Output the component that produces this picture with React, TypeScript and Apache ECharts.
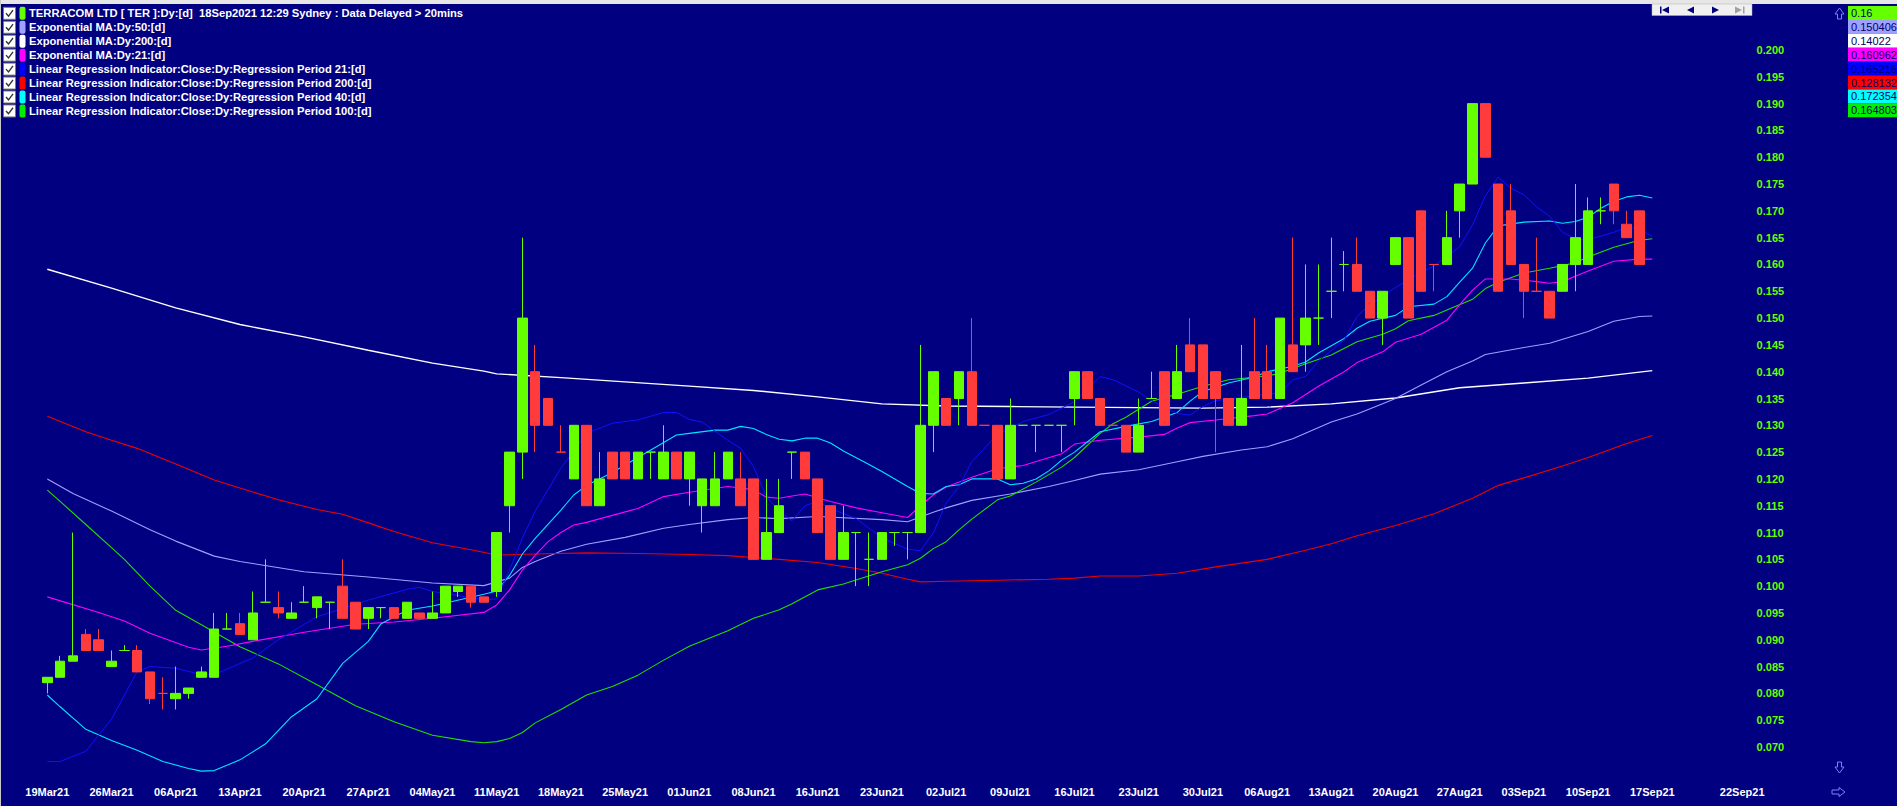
import React, { useEffect, useRef } from "react";
import * as echarts from "echarts";

// ---------- categories / tick labels ----------
const slotCount = 133;
const tickLabels = ["19Mar21","26Mar21","06Apr21","13Apr21","20Apr21","27Apr21","04May21","11May21","18May21","25May21","01Jun21","08Jun21","16Jun21","23Jun21","02Jul21","09Jul21","16Jul21","23Jul21","30Jul21","06Aug21","13Aug21","20Aug21","27Aug21","03Sep21","10Sep21","17Sep21","22Sep21"];
const tickSlots = [0,5,10,15,20,25,30,35,40,45,50,55,60,65,70,75,80,85,90,95,100,105,110,115,120,125,132];
const yTicks = { min: 0.065, max: 0.205, step: 0.005 };

// ---------- candles (TER daily) ----------
const opens = [0.082,0.083,0.086,0.091,0.090,0.085,0.088,0.088,0.084,0.080,0.079,0.080,0.083,0.083,0.092,0.093,0.090,0.097,0.096,0.094,0.097,0.096,0.097,0.100,0.097,0.094,0.096,0.096,0.094,0.095,0.094,0.095,0.099,0.100,0.098,0.099,0.115,0.125,0.140,0.135,0.125,0.120,0.130,0.115,0.125,0.125,0.120,0.125,0.120,0.125,0.120,0.115,0.115,0.120,0.120,0.120,0.105,0.110,0.125,0.125,0.120,0.115,0.105,0.110,0.105,0.105,0.110,0.110,0.110,0.130,0.135,0.135,0.140,0.130,0.130,0.120,0.130,0.130,0.130,0.130,0.135,0.140,0.135,0.130,0.130,0.125,0.135,0.140,0.135,0.145,0.145,0.140,0.135,0.130,0.140,0.140,0.135,0.145,0.145,0.150,0.155,0.160,0.160,0.155,0.150,0.160,0.165,0.170,0.160,0.160,0.170,0.175,0.190,0.175,0.170,0.160,0.155,0.155,0.155,0.160,0.160,0.170,0.175,0.1675,0.170];
const closes = [0.083,0.086,0.087,0.088,0.088,0.086,0.088,0.084,0.079,0.080,0.080,0.081,0.084,0.092,0.092,0.091,0.095,0.097,0.095,0.095,0.097,0.098,0.097,0.094,0.092,0.096,0.096,0.094,0.097,0.094,0.095,0.100,0.100,0.097,0.097,0.110,0.125,0.150,0.130,0.130,0.125,0.130,0.115,0.120,0.120,0.120,0.125,0.125,0.125,0.120,0.125,0.120,0.120,0.125,0.115,0.105,0.110,0.115,0.125,0.120,0.110,0.105,0.110,0.110,0.105,0.110,0.110,0.110,0.130,0.140,0.130,0.140,0.130,0.130,0.120,0.130,0.130,0.130,0.130,0.130,0.140,0.135,0.130,0.130,0.125,0.130,0.135,0.130,0.140,0.140,0.135,0.135,0.130,0.135,0.135,0.135,0.150,0.140,0.150,0.150,0.155,0.160,0.155,0.150,0.155,0.165,0.150,0.155,0.160,0.165,0.175,0.190,0.180,0.155,0.160,0.155,0.155,0.150,0.160,0.165,0.170,0.170,0.170,0.165,0.160];
const lows = [0.080,0.083,0.086,0.088,0.088,0.085,0.088,0.084,0.078,0.077,0.077,0.079,0.083,0.083,0.092,0.091,0.090,0.097,0.094,0.094,0.097,0.094,0.092,0.094,0.092,0.092,0.094,0.094,0.094,0.094,0.094,0.095,0.098,0.096,0.097,0.098,0.110,0.120,0.125,0.130,0.125,0.120,0.115,0.115,0.120,0.120,0.120,0.120,0.120,0.120,0.115,0.110,0.115,0.120,0.115,0.105,0.105,0.110,0.120,0.120,0.110,0.105,0.105,0.100,0.100,0.105,0.1075,0.105,0.110,0.125,0.130,0.130,0.130,0.130,0.120,0.120,0.130,0.125,0.130,0.125,0.130,0.135,0.130,0.130,0.125,0.125,0.135,0.130,0.135,0.140,0.135,0.125,0.130,0.130,0.135,0.135,0.135,0.140,0.140,0.145,0.150,0.155,0.155,0.150,0.145,0.160,0.150,0.155,0.155,0.160,0.165,0.175,0.180,0.155,0.160,0.150,0.155,0.150,0.155,0.155,0.160,0.1675,0.1675,0.165,0.160];
const highs = [0.083,0.087,0.110,0.092,0.092,0.088,0.089,0.089,0.084,0.083,0.085,0.081,0.085,0.095,0.095,0.095,0.099,0.105,0.099,0.097,0.100,0.098,0.097,0.105,0.097,0.096,0.096,0.096,0.097,0.095,0.099,0.100,0.100,0.100,0.098,0.110,0.125,0.165,0.145,0.135,0.130,0.130,0.130,0.125,0.125,0.125,0.125,0.125,0.130,0.125,0.125,0.120,0.125,0.125,0.125,0.120,0.120,0.120,0.125,0.125,0.120,0.115,0.115,0.110,0.110,0.110,0.110,0.110,0.145,0.140,0.135,0.140,0.150,0.130,0.130,0.135,0.130,0.130,0.130,0.130,0.140,0.140,0.135,0.130,0.130,0.135,0.140,0.140,0.145,0.150,0.145,0.140,0.135,0.145,0.150,0.145,0.150,0.165,0.160,0.160,0.165,0.1625,0.165,0.155,0.155,0.165,0.165,0.170,0.160,0.170,0.175,0.190,0.190,0.175,0.175,0.160,0.165,0.155,0.160,0.175,0.1725,0.1725,0.175,0.170,0.170];
const redDojis = [9, 40, 73, 83, 108, 116];

// ---------- indicator lines: [slot, value] ----------
const ema50Pts = [[0,0.1200],[2,0.1173],[5,0.1140],[8,0.1105],[10,0.1084],[13,0.1056],[15,0.1046],[20,0.1027],[25,0.1017],[30,0.1006],[34,0.1001],[35,0.1008],[36,0.1015],[37,0.1035],[38,0.1046],[40,0.1065],[42,0.1078],[45,0.1091],[48,0.1108],[50,0.1115],[53,0.1124],[55,0.1128],[57,0.1126],[60,0.1130],[65,0.1124],[67,0.1120],[69,0.1138],[70,0.1146],[72,0.1160],[75,0.1172],[78,0.1186],[80,0.1197],[82,0.1209],[85,0.1217],[88,0.1232],[90,0.1242],[93,0.1254],[95,0.1260],[97,0.1275],[100,0.1306],[102,0.1321],[104,0.1340],[105,0.1350],[107,0.1375],[109,0.1400],[111,0.1420],[112,0.1432],[115,0.1445],[117,0.1453],[120,0.1475],[122,0.1494],[124,0.1503],[125,0.1504]];
const ema200Pts = [[0,0.1591],[5,0.1556],[10,0.1519],[15,0.1488],[20,0.1465],[25,0.1440],[30,0.1416],[34,0.1401],[35,0.1396],[40,0.1389],[45,0.1381],[50,0.1373],[55,0.1365],[60,0.1353],[65,0.1340],[70,0.1336],[75,0.1335],[80,0.1334],[85,0.1333],[90,0.1332],[95,0.1334],[100,0.1340],[105,0.1351],[110,0.1370],[115,0.1379],[120,0.1388],[125,0.1402]];
const ema21Pts = [[0,0.0980],[4,0.0951],[6,0.0935],[8,0.0912],[11,0.0886],[12,0.0881],[14,0.0888],[16,0.0897],[20,0.0914],[24,0.0929],[27,0.0933],[30,0.0940],[34,0.0951],[35,0.0965],[36,0.0993],[37,0.1030],[38,0.1058],[39,0.1083],[40,0.1100],[41,0.1114],[42,0.1119],[44,0.1132],[46,0.1145],[48,0.1167],[50,0.1175],[53,0.1186],[55,0.1180],[56,0.1166],[57,0.1164],[58,0.1168],[59,0.1172],[61,0.1158],[63,0.1146],[65,0.1137],[67,0.1128],[68,0.1150],[69,0.1170],[70,0.1185],[72,0.1203],[74,0.1219],[76,0.1225],[79,0.1247],[80,0.1265],[82,0.1272],[85,0.1278],[87,0.1283],[88,0.1295],[89,0.1305],[91,0.1310],[94,0.1318],[95,0.1321],[97,0.1342],[99,0.1373],[101,0.1400],[102,0.1417],[104,0.1437],[105,0.1455],[107,0.1470],[109,0.1496],[110,0.1525],[111,0.1552],[112,0.1573],[114,0.1573],[116,0.1568],[117,0.1565],[118,0.1568],[119,0.1578],[120,0.1588],[122,0.1606],[124,0.1610],[125,0.1610]];
const lr21Pts = [[0,0.0673],[1,0.0673],[3,0.0692],[5,0.0752],[7,0.0841],[8,0.0850],[10,0.0847],[12,0.0835],[13,0.0835],[16,0.0866],[18,0.0900],[21,0.0943],[25,0.0974],[28,0.0994],[29,0.0998],[30,0.0990],[34,0.0975],[35,0.0976],[36,0.1030],[37,0.1090],[38,0.1140],[40,0.1220],[42,0.1285],[44,0.1304],[46,0.1310],[48,0.1324],[49,0.1324],[50,0.1311],[51,0.1306],[53,0.1272],[54,0.1257],[55,0.1223],[56,0.1167],[57,0.1140],[58,0.1122],[59,0.1150],[60,0.1158],[61,0.1145],[63,0.1126],[65,0.1090],[67,0.1069],[68,0.1066],[69,0.1099],[70,0.1155],[71,0.1186],[72,0.1232],[74,0.1283],[76,0.1307],[78,0.1320],[80,0.1344],[82,0.1391],[83,0.1385],[85,0.1362],[86,0.1346],[88,0.1322],[89,0.1319],[90,0.1335],[91,0.1346],[93,0.1352],[95,0.1358],[96,0.1360],[97,0.1385],[98,0.1391],[99,0.1420],[101,0.1459],[102,0.1503],[103,0.1525],[105,0.1557],[107,0.1585],[108,0.1597],[110,0.1633],[111,0.1674],[112,0.1728],[113,0.1763],[114,0.1742],[115,0.1730],[116,0.1707],[117,0.1690],[118,0.1660],[119,0.1648],[120,0.1646],[122,0.1660],[123,0.1669],[124,0.1667],[125,0.1652]];
const lr200Pts = [[0,0.1317],[3,0.1288],[5,0.1272],[7,0.1257],[10,0.1228],[13,0.1198],[15,0.1183],[18,0.1161],[21,0.1143],[23,0.1134],[25,0.1118],[27,0.1102],[30,0.1081],[33,0.1068],[35,0.1058],[38,0.1060],[42,0.1062],[46,0.1061],[50,0.1059],[53,0.1057],[57,0.1050],[60,0.1044],[63,0.1033],[65,0.1024],[67,0.1013],[68,0.1008],[70,0.1009],[74,0.1011],[78,0.1013],[80,0.1015],[82,0.1019],[85,0.1019],[88,0.1024],[91,0.1036],[95,0.1050],[98,0.1067],[100,0.1079],[102,0.1094],[105,0.1113],[108,0.1135],[111,0.1164],[113,0.1188],[115,0.1202],[118,0.1224],[120,0.1240],[123,0.1266],[125,0.1281]];
const lr40Pts = [[0,0.0797],[1,0.0775],[3,0.0733],[5,0.0712],[7,0.0694],[9,0.0673],[11,0.0660],[12,0.0655],[13,0.0656],[15,0.0676],[17,0.0706],[19,0.0756],[21,0.0790],[23,0.0856],[25,0.0897],[26,0.0930],[28,0.0955],[30,0.0963],[34,0.0985],[35,0.0991],[36,0.1020],[37,0.1060],[38,0.1089],[40,0.1142],[41,0.1170],[42,0.1188],[43,0.1200],[44,0.1212],[46,0.1240],[48,0.1268],[49,0.1282],[50,0.1285],[52,0.1291],[53,0.1291],[54,0.1298],[55,0.1294],[56,0.1283],[57,0.1274],[58,0.1271],[59,0.1276],[60,0.1276],[61,0.1267],[62,0.1252],[64,0.1227],[65,0.1214],[67,0.1186],[68,0.1173],[69,0.1172],[70,0.1186],[71,0.1189],[72,0.1200],[74,0.1200],[75,0.1189],[76,0.1192],[77,0.1200],[78,0.1215],[79,0.1235],[80,0.1250],[82,0.1288],[84,0.1298],[86,0.1307],[88,0.1324],[89,0.1345],[90,0.1363],[92,0.1379],[94,0.1390],[95,0.1400],[97,0.1410],[98,0.1418],[99,0.1435],[101,0.1462],[102,0.1481],[103,0.1494],[105,0.1505],[106,0.1521],[108,0.1526],[109,0.1540],[110,0.1567],[111,0.1593],[112,0.1640],[113,0.1672],[115,0.1679],[117,0.1681],[118,0.1677],[119,0.1680],[120,0.1688],[121,0.1705],[122,0.1718],[123,0.1726],[124,0.1729],[125,0.1724]];
const lr100Pts = [[0,0.1179],[1,0.1158],[3,0.1115],[5,0.1072],[6,0.1050],[8,0.1000],[10,0.0955],[12,0.0928],[15,0.0887],[18,0.0855],[21,0.0816],[24,0.0777],[27,0.0747],[30,0.0722],[33,0.0710],[34,0.0708],[35,0.0710],[36,0.0716],[37,0.0727],[38,0.0745],[40,0.0770],[42,0.0797],[44,0.0813],[46,0.0834],[48,0.0862],[50,0.0888],[53,0.0917],[55,0.0940],[57,0.0956],[58,0.0967],[60,0.0993],[62,0.1004],[65,0.1027],[67,0.1040],[68,0.1052],[69,0.1070],[70,0.1083],[71,0.1105],[72,0.1125],[74,0.1161],[75,0.1168],[77,0.1194],[79,0.1222],[80,0.1240],[82,0.1285],[83,0.1303],[84,0.1315],[86,0.1345],[88,0.1358],[90,0.1373],[92,0.1385],[95,0.1392],[96,0.1397],[98,0.1415],[100,0.1431],[102,0.1456],[104,0.1470],[105,0.1480],[106,0.1495],[108,0.1505],[109,0.1515],[111,0.1535],[112,0.1555],[113,0.1567],[115,0.1584],[117,0.1593],[119,0.1603],[120,0.1614],[122,0.1632],[124,0.1645],[125,0.1648]];

// ---------- legend ----------
const legendNames = [
  "TERRACOM LTD [ TER ]:Dy:[d]  18Sep2021 12:29 Sydney : Data Delayed > 20mins",
  "Exponential MA:Dy:50:[d]",
  "Exponential MA:Dy:200:[d]",
  "Exponential MA:Dy:21:[d]",
  "Linear Regression Indicator:Close:Dy:Regression Period 21:[d]",
  "Linear Regression Indicator:Close:Dy:Regression Period 200:[d]",
  "Linear Regression Indicator:Close:Dy:Regression Period 40:[d]",
  "Linear Regression Indicator:Close:Dy:Regression Period 100:[d]",
];
const legendColors = ["#66ff00", "#a0a0ff", "#ffffff", "#ff00ff", "#0000ff", "#ff0000", "#00ffff", "#00ee00"];
const lastValues = ["0.16", "0.150406", "0.14022", "0.160962", "0.165216", "0.128132", "0.172354", "0.164803"];

const UP = "#66ff00";
const DOWN = "#ff3b3b";
const FONT = '"Liberation Sans", Arial, sans-serif';

export default function App() {
  const ref = useRef<HTMLDivElement>(null);
  useEffect(() => {
    if (!ref.current) return;
    const chart = echarts.init(ref.current, undefined, { renderer: "svg" });

    const categories = Array.from({ length: slotCount }, (_, i) => "s" + i);
    const labelMap: Record<number, string> = {};
    tickSlots.forEach((s, k) => (labelMap[s] = tickLabels[k]));

    const candleData = opens.map((o, i) => {
      const c = closes[i];
      const item: any = { value: [o, c, lows[i], highs[i]] };
      if (o === c) {
        const col = redDojis.includes(i) ? DOWN : UP;
        item.itemStyle = { color: col, color0: col, borderColor: col, borderColor0: col };
      }
      return item;
    });

    const lineSeries = (name: string, pts: number[][], color: string, width: number, z: number) => ({
      name,
      type: "line",
      data: pts,
      showSymbol: false,
      symbol: "none",
      smooth: false,
      lineStyle: { color, width },
      z,
      silent: true,
    });

    const graphics: any[] = [];
    graphics.push({ type: "rect", shape: { x: 0, y: 0, width: 1897, height: 4 }, style: { fill: "#e6e6e6" }, z: 100 });
    graphics.push({ type: "rect", shape: { x: 0, y: 0, width: 1, height: 806 }, style: { fill: "#c8c8c8" }, z: 100 });

    legendNames.forEach((name, r) => {
      const y = 13.3 + r * 13.95;
      graphics.push({ type: "rect", shape: { x: 3.5, y: y - 6, width: 12, height: 12 }, style: { fill: "#ffffff", stroke: "#7a7a7a", lineWidth: 1 }, z: 100 });
      graphics.push({ type: "polyline", shape: { points: [[6, y], [8.5, y + 2.8], [13, y - 3.2]] }, style: { stroke: "#333333", lineWidth: 1.4, fill: null }, z: 101 });
      graphics.push({ type: "rect", shape: { x: 19.5, y: y - 6.5, width: 6, height: 13, r: 2 }, style: { fill: legendColors[r] }, z: 100 });
      graphics.push({ type: "text", x: 29, y, style: { text: name, fill: "#ffffff", fontSize: 11.2, fontWeight: "bold", fontFamily: FONT, verticalAlign: "middle" }, z: 100 });
      const by = 6 + r * 13.9;
      graphics.push({ type: "rect", shape: { x: 1848, y: by, width: 49, height: 13.9 }, style: { fill: legendColors[r] }, z: 100 });
      graphics.push({ type: "text", x: 1851, y: by + 7, style: { text: lastValues[r], fill: "#000066", fontSize: 11, fontFamily: FONT, verticalAlign: "middle" }, z: 101 });
    });

    graphics.push({ type: "rect", shape: { x: 1652, y: 4, width: 100, height: 11.5 }, style: { fill: "#f0f0f0", stroke: "#b0b0b0", lineWidth: 0.5 }, z: 100 });
    graphics.push({ type: "rect", shape: { x: 1660, y: 6.5, width: 1.5, height: 7 }, style: { fill: "#000080" }, z: 101 });
    graphics.push({ type: "polygon", shape: { points: [[1662, 10], [1669, 6.5], [1669, 13.5]] }, style: { fill: "#000080" }, z: 101 });
    graphics.push({ type: "polygon", shape: { points: [[1687, 10], [1694, 6.5], [1694, 13.5]] }, style: { fill: "#000080" }, z: 101 });
    graphics.push({ type: "polygon", shape: { points: [[1719, 10], [1712, 6.5], [1712, 13.5]] }, style: { fill: "#000080" }, z: 101 });
    graphics.push({ type: "polygon", shape: { points: [[1742, 10], [1735, 6.5], [1735, 13.5]] }, style: { fill: "#a0a0a0" }, z: 101 });
    graphics.push({ type: "rect", shape: { x: 1743, y: 6.5, width: 1.5, height: 7 }, style: { fill: "#a0a0a0" }, z: 101 });

    const arrowStyle = { fill: "none", stroke: "#8080ff", lineWidth: 1 };
    graphics.push({ type: "polygon", shape: { points: [[1839.5, 8], [1844, 14], [1841.5, 14], [1841.5, 19], [1837.5, 19], [1837.5, 14], [1835, 14]] }, style: arrowStyle, z: 100 });
    graphics.push({ type: "polygon", shape: { points: [[1839.5, 773], [1844, 767], [1841.5, 767], [1841.5, 762], [1837.5, 762], [1837.5, 767], [1835, 767]] }, style: arrowStyle, z: 100 });
    graphics.push({ type: "polygon", shape: { points: [[1832, 790], [1839, 790], [1839, 787.5], [1845, 792], [1839, 796.5], [1839, 794], [1832, 794]] }, style: arrowStyle, z: 100 });

    chart.setOption({
      animation: false,
      backgroundColor: "#000080",
      grid: { left: 40.9, right: 148.4, top: 23.2, bottom: 32.2, containLabel: false },
      xAxis: {
        type: "category",
        data: categories,
        boundaryGap: true,
        axisLine: { show: false },
        axisTick: { show: false },
        splitLine: { show: false },
        axisLabel: {
          interval: (i: number) => labelMap[i] !== undefined,
          formatter: (_v: string, i: number) => labelMap[i] || "",
          color: "#ffffff",
          fontSize: 11,
          fontWeight: "bold",
          fontFamily: FONT,
          margin: 13,
          hideOverlap: false,
        },
      },
      yAxis: {
        type: "value",
        position: "right",
        min: yTicks.min,
        max: yTicks.max,
        interval: yTicks.step,
        scale: true,
        axisLine: { show: false },
        axisTick: { show: false },
        splitLine: { show: false },
        axisLabel: {
          showMinLabel: false,
          showMaxLabel: false,
          formatter: (v: number) => v.toFixed(3),
          color: "#66ff00",
          fontSize: 11,
          fontWeight: "bold",
          fontFamily: FONT,
          margin: 8,
          align: "left",
        },
      },
      series: [
        lineSeries("Exponential MA:Dy:200", ema200Pts, "#ffffff", 1.4, 2),
        lineSeries("Exponential MA:Dy:50", ema50Pts, "#a0a0ff", 1.1, 2),
        lineSeries("Linear Regression 200", lr200Pts, "#ee0000", 1.1, 2),
        lineSeries("Linear Regression 100", lr100Pts, "#22dd00", 1.1, 2),
        lineSeries("Exponential MA:Dy:21", ema21Pts, "#ff00ff", 1.1, 2),
        lineSeries("Linear Regression 40", lr40Pts, "#00e5ff", 1.1, 2),
        lineSeries("Linear Regression 21", lr21Pts, "#1010ff", 1, 2),
        {
          name: "TER",
          type: "candlestick",
          data: candleData,
          barWidth: 10,
          z: 5,
          silent: true,
          itemStyle: { color: UP, color0: DOWN, borderColor: UP, borderColor0: DOWN, borderWidth: 1 },
        },
      ],
      graphic: graphics,
    });

    return () => chart.dispose();
  }, []);

  return <div ref={ref} style={{ position: "fixed", left: 0, top: 0, width: 1897, height: 806 }} />;
}
